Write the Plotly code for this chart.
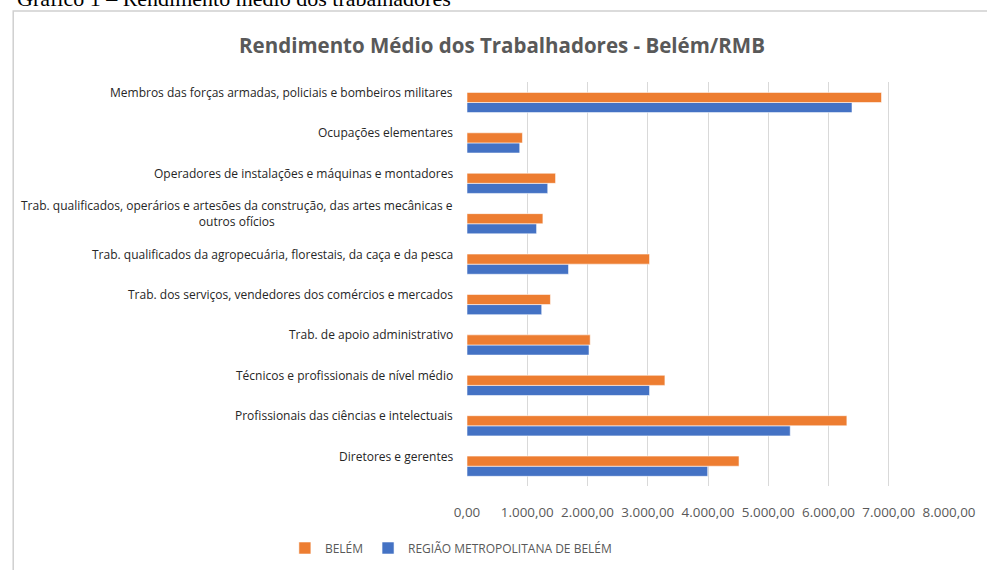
import plotly.graph_objects as go

categories = [
    "Diretores e gerentes",
    "Profissionais das ciências e intelectuais",
    "Técnicos e profissionais de nível médio",
    "Trab. de apoio administrativo",
    "Trab. dos serviços, vendedores dos comércios e mercados",
    "Trab. qualificados da agropecuária, florestais, da caça e da pesca",
    "Trab. qualificados, operários e artesões da construção, das artes mecânicas e<br>outros ofícios",
    "Operadores de instalações e máquinas e montadores",
    "Ocupações elementares",
    "Membros das forças armadas, policiais e bombeiros militares",
]
belem = [4515, 6305, 3285, 2045, 1385, 3030, 1260, 1470, 920, 6880]
rmb = [3995, 5365, 3030, 2025, 1240, 1685, 1155, 1340, 875, 6390]
x_ticks = [0, 1000, 2000, 3000, 4000, 5000, 6000, 7000, 8000]

W, H = 987, 570
ML, MR, MT, MB = 467, 33, 82, 81
PW, PH = W - ML - MR, H - MT - MB

def px_x(p):
    return (p - ML) / PW

def px_y(p):
    return (H - MB - p) / PH

fig = go.Figure()
fig.add_trace(go.Bar(
    y=categories, x=rmb, orientation="h", name="REGIÃO METROPOLITANA DE BELÉM",
    marker=dict(color="#4472C4", line=dict(color="rgba(255,255,255,0.55)", width=1)),
))
fig.add_trace(go.Bar(
    y=categories, x=belem, orientation="h", name="BELÉM",
    marker=dict(color="#ED7D31", line=dict(color="rgba(255,255,255,0.55)", width=1)),
))

annotations = []
for c in categories:
    annotations.append(dict(
        x=px_x(455), xref="paper", y=c, yref="y", yshift=10,
        text=c, showarrow=False, xanchor="right", align="center",
        font=dict(family="Open Sans", size=12, color="#262626"),
    ))
annotations.append(dict(
    x=px_x(10), xref="paper", y=px_y(13), yref="paper",
    text="Gráfico 1 – Rendimento médio dos trabalhadores", showarrow=False,
    xanchor="left", yanchor="bottom",
    font=dict(family="Liberation Serif", size=22, color="#000000"),
))

fig.update_layout(
    width=W, height=H,
    margin=dict(l=ML, r=MR, t=MT, b=MB),
    paper_bgcolor="white", plot_bgcolor="white",
    barmode="group", bargap=0.5, bargroupgap=0,
    separators=",.",
    showlegend=True,
    title=dict(
        text="<b>Rendimento Médio dos Trabalhadores - Belém/RMB</b>",
        x=502 / W, xanchor="center", y=1 - 46 / H, yanchor="middle",
        font=dict(family="Open Sans", size=20.5, color="#595959"),
    ),
    xaxis=dict(
        range=[0, 8000], tickvals=x_ticks, tickformat=",.2f",
        showgrid=True, gridcolor="#D9D9D9", gridwidth=1, zeroline=False,
        showline=False, ticks="outside", ticklen=14, tickcolor="rgba(0,0,0,0)",
        tickfont=dict(family="Open Sans", size=13.4, color="#595959"),
        fixedrange=True,
    ),
    yaxis=dict(showticklabels=False, showgrid=False, zeroline=False, showline=False,
               fixedrange=True),
    legend=dict(
        orientation="h", traceorder="reversed",
        x=px_x(283), xanchor="left", yref="container", y=1 - 548 / H, yanchor="middle",
        font=dict(family="Open Sans", size=12, color="#595959"),
        bgcolor="rgba(0,0,0,0)",
    ),
    annotations=annotations,
    shapes=[dict(
        type="rect", xref="paper", yref="paper",
        x0=px_x(8.5), x1=px_x(1000), y0=px_y(600), y1=px_y(10.5),
        line=dict(color="#D0D0D0", width=1.5), fillcolor="rgba(0,0,0,0)", layer="below",
    )],
)

fig.write_html("out.html", config={"displayModeBar": False},
               post_script="document.body.style.margin='0';")
